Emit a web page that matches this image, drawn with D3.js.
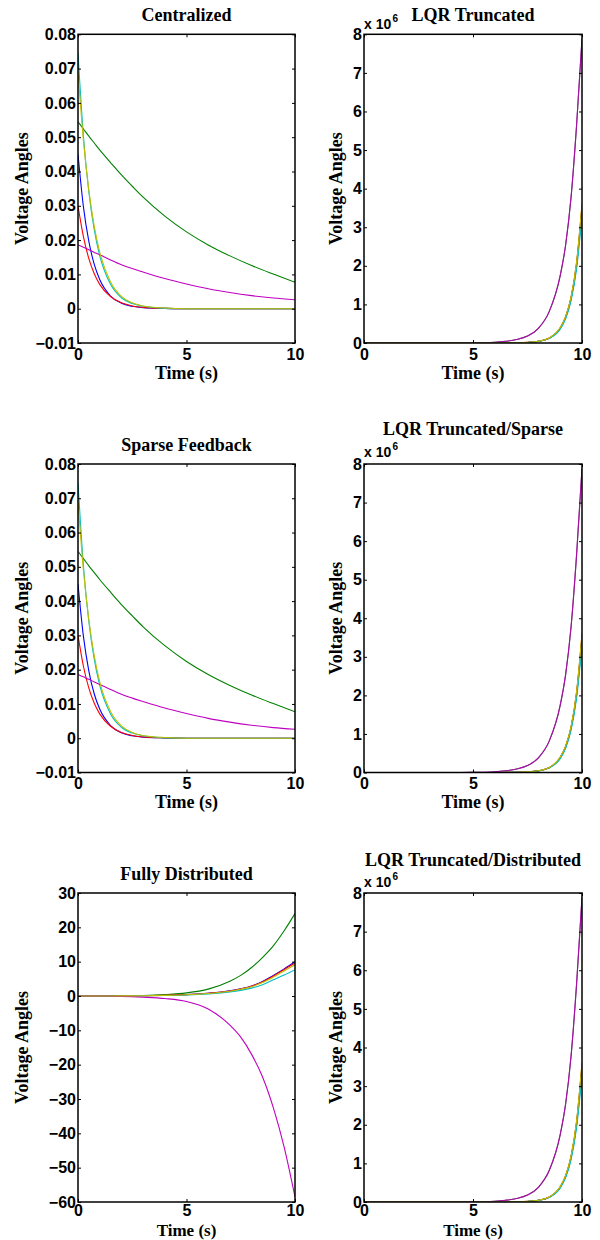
<!DOCTYPE html>
<html>
<head>
<meta charset="utf-8">
<script src="https://cdn.jsdelivr.net/npm/d3@7"></script>
<style>
body { margin: 0; background: #fff; }
</style>
</head>
<body>
<svg id="fig" width="600" height="1240"></svg>
<script>
// ---- data ----
// time samples (s)
var tFast = [0, 0.25, 0.5, 0.75, 1, 1.5, 2, 2.5, 3, 4, 5, 6, 7, 8, 9, 10];
var tLqr  = [0, 1, 2, 3, 4, 5, 6, 6.5, 7, 7.5, 8, 8.5, 9, 9.25, 9.5, 9.75, 10];
var tDist = [0, 1, 2, 3, 4, 5, 6, 7, 7.5, 8, 8.5, 9, 9.5, 10];
var timeTicks = [0, 5, 10];

// Centralized / Sparse Feedback (the two look the same)
var centralBlue    = [0.045, 0.0297, 0.0196, 0.0129, 0.0085, 0.0037, 0.0016, 0.0007, 0.0003, 0.0001, 0, 0, 0, 0, 0, 0];
var centralGreen   = [0.0545, 0.0524, 0.0503, 0.0483, 0.0463, 0.0426, 0.0390, 0.0357, 0.0325, 0.0270, 0.0224, 0.0186, 0.0154, 0.0126, 0.0101, 0.0077];
var centralRed     = [0.030, 0.021, 0.0146, 0.0102, 0.0071, 0.0035, 0.0017, 0.0008, 0.0004, 0.0001, 0, 0, 0, 0, 0, 0];
var centralCyan    = [0.0745, 0.0503, 0.034, 0.023, 0.0155, 0.0071, 0.0032, 0.0015, 0.0007, 0.0001, 0, 0, 0, 0, 0, 0];
var centralMagenta = [0.0186, 0.0179, 0.0172, 0.0164, 0.0157, 0.0142, 0.0128, 0.0117, 0.0107, 0.0088, 0.0072, 0.0058, 0.0047, 0.0038, 0.0031, 0.0026];
var centralYellow  = [0.069, 0.049, 0.0345, 0.024, 0.0165, 0.0078, 0.0036, 0.0017, 0.0008, 0.0002, 0, 0, 0, 0, 0, 0];

// LQR truncated panels, in units of 1e6
var lqrBlue    = [0, 0, 0, 0, 0, 0, 0, 0.002, 0.005, 0.014, 0.042, 0.124, 0.38, 0.66, 1.15, 2.0, 3.45];
var lqrGreen   = [0, 0, 0, 0, 0, 0, 0, 0.002, 0.005, 0.014, 0.043, 0.126, 0.385, 0.67, 1.17, 2.03, 3.5];
var lqrRed     = [0, 0, 0, 0, 0, 0, 0, 0.002, 0.005, 0.015, 0.044, 0.128, 0.39, 0.68, 1.18, 2.07, 3.57];
var lqrCyan    = [0, 0, 0, 0, 0, 0, 0, 0.0015, 0.004, 0.013, 0.04, 0.12, 0.36, 0.63, 1.1, 1.92, 3.28];
var lqrMagenta = [0, 0, 0, 0, 0.001, 0.004, 0.02, 0.045, 0.09, 0.18, 0.38, 0.82, 1.75, 2.55, 3.8, 5.65, 7.9];
var lqrYellow  = [0, 0, 0, 0, 0, 0, 0, 0.002, 0.005, 0.015, 0.045, 0.13, 0.40, 0.69, 1.2, 2.1, 3.62];
var lqrBlack   = [0, 0, 0, 0, 0.001, 0.004, 0.02, 0.045, 0.09, 0.18, 0.38, 0.82, 1.74, 2.54, 3.78, 5.62, 7.87];

// Fully Distributed
var distBlue    = [0, 0.01, 0.03, 0.08, 0.2, 0.4, 0.8, 1.5, 2.1, 2.9, 4.2, 6.0, 7.9, 10.0];
var distGreen   = [0, 0.01, 0.05, 0.15, 0.4, 0.9, 2.0, 4.3, 6.0, 8.3, 11.2, 14.6, 19.0, 24.0];
var distRed     = [0, 0.01, 0.03, 0.08, 0.19, 0.39, 0.78, 1.45, 2.05, 2.85, 4.1, 5.8, 7.7, 9.6];
var distCyan    = [0, 0.01, 0.02, 0.06, 0.15, 0.31, 0.62, 1.18, 1.65, 2.3, 3.3, 4.7, 6.1, 7.6];
var distMagenta = [0, -0.02, -0.1, -0.35, -0.75, -1.6, -3.8, -8.5, -12, -17, -23.5, -32.5, -44, -58.5];
var distYellow  = [0, 0.01, 0.03, 0.07, 0.18, 0.37, 0.74, 1.4, 1.95, 2.7, 3.9, 5.5, 7.3, 9.1];

var centralTicks = [-0.01, 0, 0.01, 0.02, 0.03, 0.04, 0.05, 0.06, 0.07, 0.08];
var lqrTicks = [0, 1, 2, 3, 4, 5, 6, 7, 8];
var distTicks = [-60, -50, -40, -30, -20, -10, 0, 10, 20, 30];

// matlab's old default colour order
var colors = { b: "#0000ff", g: "#008000", r: "#ff0000", c: "#00bfbf", m: "#c000c0", y: "#bfbf00", k: "#404040" };

var centralSeries = [
	{ c: "b", v: centralBlue }, { c: "g", v: centralGreen }, { c: "r", v: centralRed },
	{ c: "c", v: centralCyan }, { c: "m", v: centralMagenta }, { c: "y", v: centralYellow }
];
// black sits under the magenta one and tints it purple
var lqrSeries = [
	{ c: "b", v: lqrBlue }, { c: "g", v: lqrGreen }, { c: "r", v: lqrRed },
	{ c: "c", v: lqrCyan }, { c: "k", v: lqrBlack }, { c: "m", v: lqrMagenta, o: 0.8 }, { c: "y", v: lqrYellow }
];
var distSeries = [
	{ c: "b", v: distBlue }, { c: "g", v: distGreen }, { c: "r", v: distRed },
	{ c: "c", v: distCyan }, { c: "m", v: distMagenta }, { c: "y", v: distYellow }
];

var fmt2 = function(v) { return v === 0 ? "0" : d3.format(".2f")(v); };
var fmtInt = d3.format("d");

var panels = [
	{ title: "Centralized", row: 0, col: 0, t: tFast, series: centralSeries, dom: [-0.01, 0.08], ticks: centralTicks, fmt: fmt2 },
	{ title: "LQR Truncated", row: 0, col: 1, t: tLqr, series: lqrSeries, dom: [0, 8], ticks: lqrTicks, fmt: fmtInt, exp: true },
	{ title: "Sparse Feedback", row: 1, col: 0, t: tFast, series: centralSeries, dom: [-0.01, 0.08], ticks: centralTicks, fmt: fmt2 },
	{ title: "LQR Truncated/Sparse", row: 1, col: 1, t: tLqr, series: lqrSeries, dom: [0, 8], ticks: lqrTicks, fmt: fmtInt, exp: true },
	{ title: "Fully Distributed", row: 2, col: 0, t: tDist, series: distSeries, dom: [-60, 30], ticks: distTicks, fmt: fmtInt },
	{ title: "LQR Truncated/Distributed", row: 2, col: 1, t: tLqr, series: lqrSeries, dom: [0, 8], ticks: lqrTicks, fmt: fmtInt, exp: true }
];

// ---- layout ----
var colX = [[78, 295], [364, 582]];
var rowY = [[34.3, 343], [464, 772.5], [893, 1202]];
var titleBase = [[21, 21], [451, 435], [880, 866]];
var timeBase = [379, 808, 1236];
var timeSize = [18, 18, 17];
var xPad = [5.5, 5.5, 3];   // bottom row is squeezed against the page edge
var expBase = [28.7, 456.7, 886.7];
var ylabX = [28, 342];

var SANS = "'Liberation Sans', Arial, Helvetica, sans-serif";
var SERIF = "'Liberation Serif', 'Times New Roman', serif";

var svg = d3.select("#fig");
svg.append("rect").attr("width", 600).attr("height", 1240).attr("fill", "#fff");

function styleAxis(sel) {
	sel.attr("font-family", SANS).attr("font-size", 16).attr("font-weight", "bold");
	sel.select(".domain").remove();
	sel.selectAll("line").attr("stroke", "#000");
	sel.selectAll("text").attr("fill", "#000");
}

panels.forEach(function(p, i) {
	var xr = colX[p.col], yr = rowY[p.row];
	var x = d3.scaleLinear().domain([0, 10]).range(xr);
	var y = d3.scaleLinear().domain(p.dom).range([yr[1], yr[0]]);
	var g = svg.append("g");

	g.append("clipPath").attr("id", "clip" + i)
		.append("rect").attr("x", xr[0]).attr("y", yr[0])
		.attr("width", xr[1] - xr[0]).attr("height", yr[1] - yr[0]);

	var line = d3.line()
		.x(function(d, j) { return x(p.t[j]); })
		.y(function(d) { return y(d); })
		.curve(d3.curveMonotoneX);

	var lines = g.append("g").attr("clip-path", "url(#clip" + i + ")");
	p.series.forEach(function(s) {
		lines.append("path")
			.attr("d", line(s.v))
			.attr("fill", "none")
			.attr("stroke", colors[s.c])
			.attr("stroke-opacity", s.o || 1)
			.attr("stroke-width", 1.1);
	});

	// ticks point inward, like matlab
	g.append("g").attr("transform", "translate(0," + yr[1] + ")")
		.call(d3.axisBottom(x).tickValues(timeTicks).tickSize(-3).tickSizeOuter(0).tickPadding(xPad[p.row]).tickFormat(d3.format("d")))
		.call(styleAxis);
	g.append("g").attr("transform", "translate(0," + yr[0] + ")")
		.call(d3.axisTop(x).tickValues(timeTicks).tickSize(-3).tickSizeOuter(0).tickFormat(""))
		.call(styleAxis);
	g.append("g").attr("transform", "translate(" + xr[0] + ",0)")
		.call(d3.axisLeft(y).tickValues(p.ticks).tickSize(-3).tickSizeOuter(0).tickPadding(2).tickFormat(p.fmt))
		.call(styleAxis);
	g.append("g").attr("transform", "translate(" + xr[1] + ",0)")
		.call(d3.axisRight(y).tickValues(p.ticks).tickSize(-3).tickSizeOuter(0).tickFormat(""))
		.call(styleAxis);

	g.append("rect")
		.attr("x", xr[0]).attr("y", yr[0])
		.attr("width", xr[1] - xr[0]).attr("height", yr[1] - yr[0])
		.attr("fill", "none").attr("stroke", "#000").attr("stroke-width", 1.5);

	var cx = (xr[0] + xr[1]) / 2, cy = (yr[0] + yr[1]) / 2;

	g.append("text")
		.attr("x", cx).attr("y", titleBase[p.row][p.col])
		.attr("text-anchor", "middle")
		.attr("font-family", SERIF).attr("font-size", 18).attr("font-weight", "bold")
		.text(p.title);

	g.append("text")
		.attr("x", cx).attr("y", timeBase[p.row])
		.attr("text-anchor", "middle")
		.attr("font-family", SERIF).attr("font-size", timeSize[p.row]).attr("font-weight", "bold")
		.text("Time (s)");

	g.append("text")
		.attr("transform", "translate(" + ylabX[p.col] + "," + cy + ") rotate(-90)")
		.attr("text-anchor", "middle")
		.attr("font-family", SERIF).attr("font-size", 18).attr("font-weight", "bold")
		.text("Voltage Angles");

	if (p.exp) {
		g.append("text")
			.attr("x", xr[0]).attr("y", expBase[p.row])
			.attr("font-family", SANS).attr("font-size", 14).attr("font-weight", "bold")
			.text("x 10");
		g.append("text")
			.attr("x", xr[0] + 28.5).attr("y", expBase[p.row] - 6.5)
			.attr("font-family", SANS).attr("font-size", 10).attr("font-weight", "bold")
			.text("6");
	}
});
</script>
</body>
</html>
